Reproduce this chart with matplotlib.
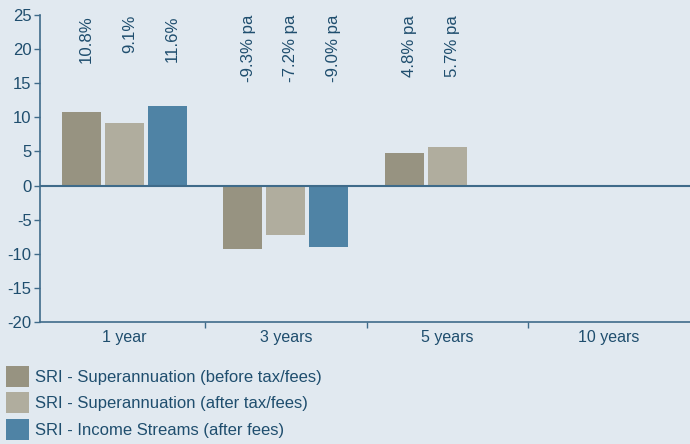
import matplotlib
matplotlib.use("Agg")
import matplotlib.pyplot as plt
import numpy as np

categories = ["1 year", "3 years", "5 years", "10 years"]
series_names = [
    "SRI - Superannuation (before tax/fees)",
    "SRI - Superannuation (after tax/fees)",
    "SRI - Income Streams (after fees)",
]
super_before = [10.8, -9.3, 4.8, 0.0]
super_after = [9.1, -7.2, 5.7, 0.0]
income_streams = [11.6, -9.0, 0.0, 0.0]
label_before = ["10.8%", "-9.3% pa", "4.8% pa", ""]
label_after = ["9.1%", "-7.2% pa", "5.7% pa", ""]
label_income = ["11.6%", "-9.0% pa", "", ""]
yticks = [25, 20, 15, 10, 5, 0, -5, -10, -15, -20]

colors = ["#979381", "#b0ad9e", "#4f83a5"]
bg = "#e1e9f0"
txt = "#1f4e6e"
axc = "#3f6b8a"

plt.rcParams["font.family"] = ["Liberation Sans", "DejaVu Sans"]

fig = plt.figure(figsize=(6.9, 4.44), dpi=100, facecolor=bg)
ax = fig.add_axes([40 / 690, 1 - 322 / 444, 650 / 690, (322 - 15) / 444])
ax.set_facecolor(bg)

x = np.arange(len(categories))
w = 0.24
off = 0.266
all_vals = [super_before, super_after, income_streams]
all_labels = [label_before, label_after, label_income]
for i, (vals, labs) in enumerate(zip(all_vals, all_labels)):
    xs = x + (i - 1) * off
    ax.bar(xs, vals, width=w, color=colors[i], label=series_names[i], zorder=2)
    for xi, lab in zip(xs, labs):
        if lab:
            ax.text(xi + 0.032, 25.0, lab, rotation=90, ha="center", va="top",
                    fontsize=12.1, color=txt)

ax.axhline(0, color=axc, lw=1.5, zorder=3)
ax.set_xlim(-0.522, 3.503)
ax.set_ylim(-20, 25)
ax.set_yticks(yticks)
ax.set_yticklabels([str(t) for t in yticks])
ax.set_xticks(x)
ax.set_xticklabels(categories)
ax.set_xticks([0.5, 1.5, 2.5], minor=True)
ax.tick_params(axis="x", which="major", length=0, labelsize=11.5, colors=txt, pad=6)
ax.tick_params(axis="x", which="minor", length=4, color=axc, width=1, direction="out")
ax.tick_params(axis="y", length=4, color=axc, width=1, labelsize=12, labelcolor=txt, pad=2)
for s in ["top", "right"]:
    ax.spines[s].set_visible(False)
for s in ["left", "bottom"]:
    ax.spines[s].set_color(axc)
    ax.spines[s].set_linewidth(1.2)

fig.legend(loc="upper left", bbox_to_anchor=(6 / 690, 1 - 366 / 444), frameon=False,
           fontsize=12, handlelength=1.38, handleheight=1.55, labelspacing=0.33,
           handletextpad=0.36, borderpad=0, borderaxespad=0, labelcolor=txt)

fig.savefig("out.png", dpi=100, facecolor=bg)
